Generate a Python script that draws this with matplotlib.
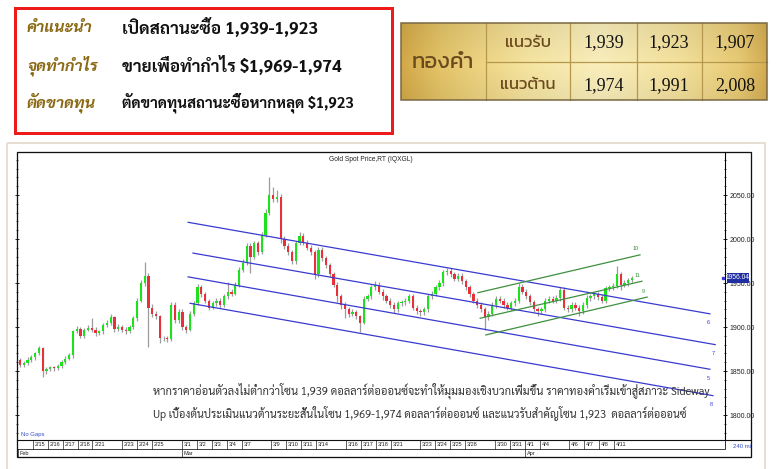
import matplotlib
matplotlib.use("Agg")
import matplotlib.pyplot as plt
import numpy as np
from matplotlib import font_manager
from matplotlib.patches import Rectangle
from matplotlib.ticker import MultipleLocator, FixedLocator, FuncFormatter
from matplotlib.colors import to_rgb

avail = {f.name for f in font_manager.fontManager.ttflist}


def pick(*names):
    for n in names:
        if n in avail:
            return n
    return "DejaVu Sans"


F_LOOP = pick("Sarabun", "Noto Sans Thai Looped", "Noto Serif Thai", "Anuphan")
F_MODERN = pick("Kanit", "Prompt", "Mitr", "Noto Sans Thai", "Anuphan")
F_SERIF = "Liberation Serif"
F_SMALL = "Liberation Sans"

# ---------------- data ----------------
first_open = 1862
closes = np.array([
    1857, 1859, 1863, 1866, 1870, 1876, 1850, 1852, 1854, 1853, 1856,
    1860, 1864, 1868, 1895, 1898, 1890, 1897, 1899, 1897, 1893, 1895,
    1902, 1905, 1911, 1898, 1900, 1897, 1895, 1900, 1910, 1930, 1950,
    1958, 1922, 1915, 1912, 1887, 1888, 1886, 1925, 1908, 1917,
    1900, 1897, 1915, 1927, 1945, 1937, 1930, 1922, 1927, 1930,
    1925, 1935, 1940, 1938, 1948, 1965, 1973, 1992, 1980, 1995,
    1985, 2005, 2030, 2050, 2045, 2048, 2000, 1992, 1985, 1975,
    1995, 2004, 1996, 1990, 1985, 1960, 1988, 1978, 1970, 1960,
    1948, 1935, 1925, 1920, 1915, 1917, 1912, 1905, 1932, 1935,
    1945, 1948, 1940, 1935, 1930, 1925, 1920, 1927, 1928, 1930,
    1935, 1922, 1918, 1917, 1920, 1935, 1938, 1945, 1950, 1962,
    1964, 1960, 1955, 1958, 1952, 1945, 1937, 1930, 1925, 1920,
    1911, 1915, 1925, 1932, 1930, 1925, 1922, 1927, 1930, 1946,
    1940, 1935, 1928, 1920, 1918, 1920, 1930, 1932, 1930, 1933,
    1942, 1922, 1920, 1925, 1922, 1918, 1925, 1933, 1935, 1937,
    1934, 1930, 1944, 1945, 1947, 1960, 1948, 1950, 1953, 1956,
], dtype=float)
upper_wick = np.array([
    3, 2, 3, 2, 2, 2, 1, 3, 2, 2, 2,
    2, 3, 3, 2, 3, 2, 2, 3, 11, 3, 2,
    3, 3, 4, 2, 3, 2, 3, 2, 3, 3, 4,
    16, 3, 4, 3, 2, 2, 2, 3, 3, 3,
    3, 2, 3, 3, 4, 3, 3, 2, 3, 3,
    3, 3, 11, 3, 3, 3, 4, 4, 3, 3,
    3, 3, 4, 20, 9, 8, 3, 3, 3, 3,
    3, 4, 3, 3, 3, 3, 3, 3, 3, 3,
    3, 3, 3, 3, 3, 3, 2, 2, 3, 3,
    3, 4, 3, 3, 3, 3, 3, 3, 3, 3,
    3, 3, 3, 2, 3, 3, 3, 3, 3, 3,
    3, 3, 3, 3, 3, 3, 3, 3, 3, 3,
    3, 3, 3, 3, 3, 3, 3, 3, 3, 4,
    3, 3, 3, 3, 3, 3, 3, 3, 3, 3,
    3, 3, 3, 3, 3, 3, 3, 3, 3, 3,
    3, 3, 3, 3, 3, 9, 3, 3, 3, 2,
], dtype=float)
lower_wick = np.array([
    2, 3, 2, 3, 3, 2, 7, 3, 2, 3, 2,
    3, 2, 2, 3, 2, 3, 2, 2, 3, 3, 2,
    3, 2, 3, 4, 3, 3, 3, 2, 2, 3, 2,
    3, 45, 4, 3, 5, 3, 3, 2, 4, 3,
    3, 4, 2, 3, 2, 3, 3, 3, 2, 3,
    3, 2, 3, 3, 2, 3, 3, 3, 19, 3,
    3, 2, 3, 3, 3, 3, 4, 3, 3, 3,
    3, 2, 3, 3, 3, 5, 3, 3, 3, 3,
    3, 7, 4, 10, 4, 3, 3, 11, 2, 3,
    3, 3, 3, 4, 3, 3, 4, 3, 3, 3,
    3, 3, 3, 5, 3, 3, 3, 3, 3, 3,
    3, 3, 3, 3, 3, 3, 3, 3, 3, 3,
    14, 3, 3, 3, 3, 3, 3, 3, 3, 3,
    3, 3, 3, 3, 5, 3, 3, 3, 3, 3,
    3, 3, 3, 3, 3, 5, 3, 3, 3, 3,
    3, 3, 3, 3, 3, 3, 6, 3, 3, 2,
], dtype=float)
last_price = 1956.04

# trend lines (bar index, price)
blue_tags = ["6", "7", "5", "8"]
blue_x0 = [44.5, 45.8, 44.5, 45.0]
blue_y0 = [2019, 1984, 1957, 1927]
blue_x1 = [182.6, 184.0, 182.6, 183.4]
blue_y1 = [1915, 1880, 1852, 1822]
green_tags = ["10", "11", "9"]
green_x0 = [121.2, 121.8, 123.3]
green_y0 = [1939, 1910, 1891]
green_x1 = [164.1, 164.6, 166.0]
green_y1 = [1982, 1952, 1934]

# dates (trading-day number counted from 2/14)
bars_per_day = 3.944
day_labels = ["2/15", "2/16", "2/17", "2/18", "2/21", "2/23", "2/24", "2/25",
              "3/1", "3/2", "3/3", "3/4", "3/7", "3/9", "3/10", "3/11", "3/14",
              "3/16", "3/17", "3/18", "3/21", "3/23", "3/24", "3/25", "3/28",
              "3/30", "3/31", "4/1", "4/4", "4/6", "4/7", "4/8", "4/11"]
day_number = [1, 2, 3, 4, 5, 7, 8, 9, 11, 12, 13, 14, 15, 17, 18, 19, 20,
              22, 23, 24, 25, 27, 28, 29, 30, 32, 33, 34, 35, 37, 38, 39, 40]
month_labels = ["Feb", "Mar", "Apr"]
month_day = [0, 11, 34]

y_ticks = [1800, 1850, 1900, 1950, 2000, 2050]

# text panels
rec_labels = ["คำแนะนำ", "จุดทำกำไร", "ตัดขาดทุน"]
rec_values = ["เปิดสถานะซื้อ 1,939-1,923",
              "ขายเพื่อทำกำไร $1,969-1,974",
              "ตัดขาดทุนสถานะซื้อหากหลุด $1,923"]
table_title = "ทองคำ"
table_rows = ["แนวรับ", "แนวต้าน"]
table_support = ["1,939", "1,923", "1,907"]
table_resist = ["1,974", "1,991", "2,008"]
note_lines = [
    "หากราคาอ่อนตัวลงไม่ต่ำกว่าโซน 1,939 ดอลลาร์ต่อออนซ์จะทำให้มุมมองเชิงบวกเพิ่มขึ้น ราคาทองคำเริ่มเข้าสู่สภาวะ Sideway",
    "Up เบื้องต้นประเมินแนวต้านระยะสั้นในโซน 1,969-1,974 ดอลลาร์ต่อออนซ์ และแนวรับสำคัญโซน 1,923  ดอลลาร์ต่อออนซ์",
]

# ---------------- figure ----------------
W, H = 780, 469
fig = plt.figure(figsize=(7.8, 4.69), dpi=100)
PX = 72.0 / 100  # points per pixel


def fr(x0, y0, x1, y1):
    return [x0 / W, 1 - y1 / H, (x1 - x0) / W, (y1 - y0) / H]


# main price axes
ax = fig.add_axes(fr(17, 152, 725, 440), zorder=2)
ax.set_facecolor("white")
xmin, xmax = -0.79, 186.6
ax.set_xlim(xmin, xmax)
ax.set_ylim(1771.6, 2098.9)

xi = np.arange(len(closes))
opens = np.r_[first_open, closes[:-1]]
highs = np.maximum(opens, closes) + upper_wick
lows = np.minimum(opens, closes) - lower_wick
ax.vlines(xi, lows, highs, color="#9c9c9c", lw=0.9, zorder=2)
up = closes >= opens
ax.bar(xi[up], (closes - opens)[up], bottom=opens[up], width=0.6,
       color="#1fe01f", linewidth=0, zorder=3)
ax.bar(xi[~up], (opens - closes)[~up], bottom=closes[~up], width=0.6,
       color="#e8303a", linewidth=0, zorder=3)

for t, a, b, c, d in zip(blue_tags, blue_x0, blue_y0, blue_x1, blue_y1):
    ax.plot([a, c], [b, d], color="#3a3ad0", lw=0.9, zorder=4)
    ax.annotate(t, (c, d), xytext=(-1.5, -4.5), textcoords="offset points",
                fontsize=4, color="#3a3ad0", ha="center", va="top", family=F_SMALL)
for t, a, b, c, d in zip(green_tags, green_x0, green_y0, green_x1, green_y1):
    ax.plot([a, c], [b, d], color="#3f8f3f", lw=0.9, zorder=4)
    ax.annotate(t, (c, d), xytext=(-3, 2.5), textcoords="offset points",
                fontsize=4, color="#3f8f3f", ha="center", va="bottom", family=F_SMALL)

ax.yaxis.tick_right()
ax.yaxis.set_major_locator(FixedLocator(y_ticks))
ax.yaxis.set_minor_locator(MultipleLocator(10))
ax.yaxis.set_major_formatter(FuncFormatter(lambda v, p: f"{v:.2f}"))
ax.tick_params(axis="y", which="major", right=True, left=True, direction="inout",
               length=3, width=0.6, labelsize=5, pad=1.5, labelcolor="#222222")
ax.tick_params(axis="y", which="minor", right=True, left=True, direction="inout",
               length=2, width=0.5)
for lab in ax.get_yticklabels():
    lab.set_family(F_SMALL)
ax.set_xticks([])
for s in ["left", "top", "bottom"]:
    ax.spines[s].set_visible(False)
ax.spines["right"].set_linestyle((0, (1.5, 1.0)))
ax.spines["right"].set_linewidth(0.8)

ax.text(0.5, 0.985, "Gold Spot Price,RT (IQXGL)", transform=ax.transAxes,
        ha="center", va="top", fontsize=4.8, family=F_SMALL, color="#222222")
ax.text(0.005, 0.012, "No Gaps", transform=ax.transAxes, ha="left", va="bottom",
        fontsize=4.3, family=F_SMALL, color="#3550c8")
for k, (line, fs) in enumerate(zip(note_lines, [8, 7.85])):
    ax.text(0.1914, 0.170 - k * 0.077, line, transform=ax.transAxes, ha="left",
            va="center", fontsize=fs, family=[F_LOOP, "DejaVu Sans"], color="#333333",
            zorder=6)

# date strip
dx = fig.add_axes(fr(17, 440, 725, 457), zorder=2)
dx.set_xlim(xmin, xmax)
dx.set_ylim(0, 2)
dx.axis("off")
dx.axhline(1, color="#222222", lw=0.6)
for lbl, d in zip(day_labels, day_number):
    xb = d * bars_per_day - 0.53
    dx.plot([xb, xb], [1, 2], color="#222222", lw=0.5)
    dx.text(xb + 0.5, 1.45, lbl, fontsize=4, family=F_SMALL, ha="left", va="center",
            color="#222222")
for lbl, d in zip(month_labels, month_day):
    xb = d * bars_per_day - 0.53
    dx.plot([xb, xb], [0, 1], color="#222222", lw=0.5)
    dx.text(xb + 0.5, 0.45, lbl, fontsize=4, family=F_SMALL, ha="left", va="center",
            color="#222222")

# overlay in pixel coordinates
ov = fig.add_axes([0, 0, 1, 1], zorder=10)
ov.set_facecolor("none")
ov.axis("off")

# table gradient
stops_x = [401, 440, 486, 530, 600, 680, 740, 767]
stops_c = ["#d3a948", "#e4c468", "#efd686", "#f6e5a2", "#faefbc", "#f4e19c",
           "#e8ca74", "#d4ad52"]
gx = np.linspace(401, 767, 300)
rgb = np.array([to_rgb(c) for c in stops_c])
row = np.stack([np.interp(gx, stops_x, rgb[:, i]) for i in range(3)], axis=-1)
gy = np.linspace(0, 1, 60)
shade = 1 - 0.06 * np.abs(gy - 0.55)[:, None, None] * 2
img = np.clip(row[None, :, :] * shade, 0, 1)
ov.imshow(img, extent=(401, 767, 100, 23), aspect="auto", zorder=1,
          interpolation="bilinear")
ov.set_xlim(0, W)
ov.set_ylim(H, 0)

# table lines
for xv in [486, 570, 637, 702]:
    ov.plot([xv, xv], [23, 100], color="#b6974e", lw=0.9, zorder=2)
ov.plot([486, 767], [62, 62], color="#b6974e", lw=0.9, zorder=2)
ov.add_patch(Rectangle((401, 23), 366, 77, fill=False, edgecolor="#7a6842", lw=1.1,
                       zorder=3))
ov.text(443, 62, table_title, fontsize=16, family=[F_MODERN, "DejaVu Sans"],
        weight=400, color="#6b4a1e", ha="center", va="center", zorder=4)
for k, t in enumerate(table_rows):
    ov.text(528, 43 + k * 42, t, fontsize=12, family=[F_MODERN, "DejaVu Sans"],
            weight=400, color="#6b4a1e", ha="center", va="center", zorder=4)
for xc, t in zip([604, 669, 735], table_support):
    ov.text(xc, 43, t, fontsize=13, family=F_SERIF, color="#111111", ha="center",
            va="center", zorder=4)
for xc, t in zip([604, 669, 735], table_resist):
    ov.text(xc, 86, t, fontsize=13, family=F_SERIF, color="#111111", ha="center",
            va="center", zorder=4)

# recommendation box
ov.add_patch(Rectangle((15, 8), 377, 125, fill=False, edgecolor="#ee1b1b",
                       lw=3 * PX, zorder=3))
for k, (lab, val, fs) in enumerate(zip(rec_labels, rec_values, [12.3, 12.3, 10.8])):
    yy = 28 + k * 37.5
    ov.text(27, yy, lab, fontsize=11.5, family=[F_LOOP, "DejaVu Sans"], weight="bold",
            style="italic", color="#8a6a14", ha="left", va="center", zorder=4)
    ov.text(122, yy, val, fontsize=fs, family=[F_LOOP, "DejaVu Sans"], weight="bold",
            color="#111111", ha="left", va="center", zorder=4)

# chart frames
ov.add_patch(Rectangle((7, 143), 758, 340, fill=False, edgecolor="#e7e0d2", lw=2 * PX,
                       zorder=3))
ov.add_patch(Rectangle((17, 152), 734, 305, fill=False, edgecolor="#111111", lw=1.3 * PX,
                       zorder=5))
ov.plot([17, 751], [440, 440], color="#111111", lw=0.8, zorder=5)
ov.plot([725, 725], [440, 449], color="#111111", lw=0.6, zorder=5)
ov.text(733, 447, "240 mi", fontsize=4.3, family=F_SMALL, color="#3550c8",
        ha="left", va="center", zorder=5)

# last price box
yy_last = 152 + (2098.9 - last_price) / (2098.9 - 1771.6) * (440 - 152)
ov.add_patch(Rectangle((727, yy_last - 5), 22, 10.5, facecolor="#1f2fa0",
                       edgecolor="none", zorder=6))
ov.text(738, yy_last + 0.2, f"{last_price:.2f}", fontsize=4.8, family=F_SMALL,
        color="white", ha="center", va="center", zorder=7)
ov.plot([723], [yy_last], marker="s", ms=1.5, color="#3a3ad0", zorder=7)

fig.savefig("out.png", dpi=100)
